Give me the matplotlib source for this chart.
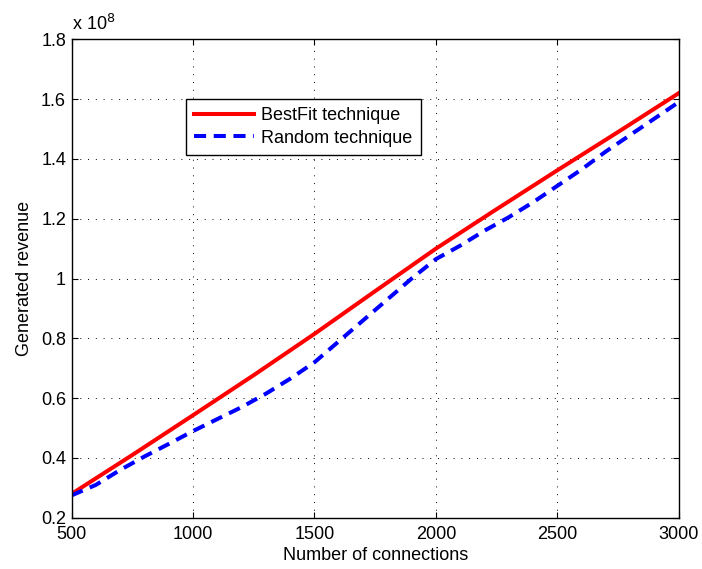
import matplotlib.pyplot as plt
from matplotlib.ticker import FuncFormatter

plt.rcParams['font.family'] = ['Liberation Sans', 'DejaVu Sans']

# revenue values are in units of 1e8
conn_bestfit = [500, 750, 1000, 1250, 1500, 1750, 2000, 2250, 2500, 2750, 3000]
rev_bestfit = [0.28, 0.41, 0.543, 0.677, 0.815, 0.958, 1.10, 1.232, 1.362, 1.49, 1.62]

conn_random = [500, 600, 700, 800, 900, 1000, 1100, 1200, 1300, 1400, 1500, 1600, 1700,
               1800, 1900, 2000, 2100, 2200, 2300, 2400, 2500, 2600, 2700, 2800, 2900, 3000]
rev_random = [0.275, 0.31, 0.36, 0.405, 0.447, 0.49, 0.53, 0.57, 0.615, 0.665, 0.72, 0.79,
              0.86, 0.93, 1.0, 1.065, 1.11, 1.16, 1.205, 1.255, 1.31, 1.365, 1.425, 1.48,
              1.535, 1.59]

x_ticks = [500, 1000, 1500, 2000, 2500, 3000]
y_ticks = [0.2, 0.4, 0.6, 0.8, 1.0, 1.2, 1.4, 1.6, 1.8]

fs = 13

fig = plt.figure(figsize=(7.02, 5.69), dpi=100)
ax = fig.add_axes([0.102, 0.090, 0.865, 0.841])

ax.plot(conn_bestfit, rev_bestfit, color='red', lw=2.9, label='BestFit technique')
ax.plot(conn_random, rev_random, color='blue', lw=2.9, dashes=(3, 1.9),
        dash_capstyle='butt', label='Random technique')

ax.set_xlim(500, 3000)
ax.set_ylim(0.2, 1.8)
ax.set_xticks(x_ticks)
ax.set_yticks(y_ticks)
ax.yaxis.set_major_formatter(FuncFormatter(lambda v, p: '%g' % round(v, 1)))
ax.tick_params(direction='in', top=True, right=True, labelsize=fs, length=4,
               width=0.8)
ax.tick_params(axis='x', pad=6)
ax.tick_params(axis='y', pad=4)
ax.grid(True, linestyle=(0, (1, 7)), color='black', lw=0.7)
for s in ax.spines.values():
    s.set_linewidth(1.0)

ax.set_xlabel('Number of connections', fontsize=fs, labelpad=3)
ax.set_ylabel('Generated revenue', fontsize=fs, labelpad=6)
ax.text(0.0, 1.012, 'x 10$^{8}$', transform=ax.transAxes, fontsize=fs,
        ha='left', va='bottom')

leg = ax.legend(loc='upper left', bbox_to_anchor=(0.189, 0.875), borderaxespad=0,
                fancybox=False, framealpha=1, edgecolor='black', fontsize=fs,
                handlelength=3.3, handletextpad=0.4, borderpad=0.45,
                labelspacing=0.3)
leg.get_frame().set_linewidth(1.0)

fig.savefig('out.png', dpi=100)
